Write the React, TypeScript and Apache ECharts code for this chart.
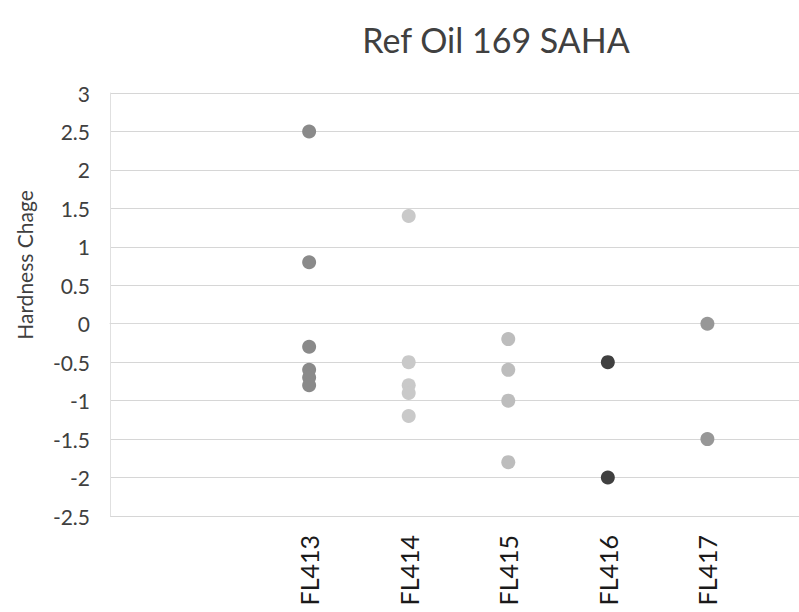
import React, { useEffect, useRef } from "react";
import * as echarts from "echarts";

const categories = ["", "", "FL413", "FL414", "FL415", "FL416", "FL417"];
const fl413 = [2.5, 0.8, -0.3, -0.6, -0.7, -0.8];
const fl414 = [1.4, -0.5, -0.8, -0.9, -1.2];
const fl415 = [-0.2, -0.6, -1.0, -1.8];
const fl416 = [-0.5, -2.0];
const fl417 = [0.0, -1.5];
const seriesList: [string, number[], string][] = [
  ["FL413", fl413, "#8a8a8a"],
  ["FL414", fl414, "#c9c9c9"],
  ["FL415", fl415, "#bdbdbd"],
  ["FL416", fl416, "#404040"],
  ["FL417", fl417, "#979797"],
];

const FONT = "Lato, 'Open Sans', sans-serif";

export default function App() {
  const ref = useRef<HTMLDivElement>(null);
  useEffect(() => {
    const chart = echarts.init(ref.current!, undefined, { renderer: "svg" });
    chart.setOption({
      animation: false,
      backgroundColor: "#ffffff",
      title: {
        text: "Ref Oil 169 SAHA",
        left: 491,
        top: 17,
        textAlign: "center",
        textStyle: { fontFamily: FONT, fontSize: 34, fontWeight: "normal", color: "#404040" },
      },
      graphic: [
        {
          type: "text",
          x: 24,
          y: 265,
          rotation: Math.PI / 2,
          style: {
            text: "Hardness Chage",
            fontFamily: FONT,
            fontSize: 21,
            fill: "#404040",
            textAlign: "center",
            textVerticalAlign: "middle",
          },
        },
      ],
      grid: { left: 110, right: 0, top: 93, bottom: 96, containLabel: false },
      xAxis: {
        type: "value",
        min: 0,
        max: 6.92,
        interval: 1,
        axisLine: { show: true, lineStyle: { color: "#d9d9d9" } },
        axisTick: { show: false },
        splitLine: { show: false },
        axisLabel: {
          rotate: 90,
          margin: 19,
          fontFamily: FONT,
          fontSize: 25,
          color: "#1a1a1a",
          showMaxLabel: false,
          formatter: (v: number) => (Number.isInteger(v) ? categories[v] ?? "" : ""),
        },
      },
      yAxis: {
        type: "value",
        min: -2.5,
        max: 3,
        interval: 0.5,
        axisLine: { show: true, lineStyle: { color: "#e0e0e0" } },
        axisTick: { show: false },
        splitLine: { show: true, lineStyle: { color: "#d6d6d6", width: 1 } },
        axisLabel: {
          margin: 20,
          fontFamily: FONT,
          fontSize: 21,
          color: "#404040",
        },
      },
      series: seriesList.map(([name, vals, color]) => ({
        type: "scatter",
        name,
        symbol: "circle",
        symbolSize: 14,
        itemStyle: { color, opacity: 1 },
        data: vals.map((v) => [categories.indexOf(name), v]),
      })),
    });
    return () => chart.dispose();
  }, []);
  return (
    <div
      ref={ref}
      style={{ position: "fixed", left: 0, top: 0, width: 799, height: 612 }}
    />
  );
}
